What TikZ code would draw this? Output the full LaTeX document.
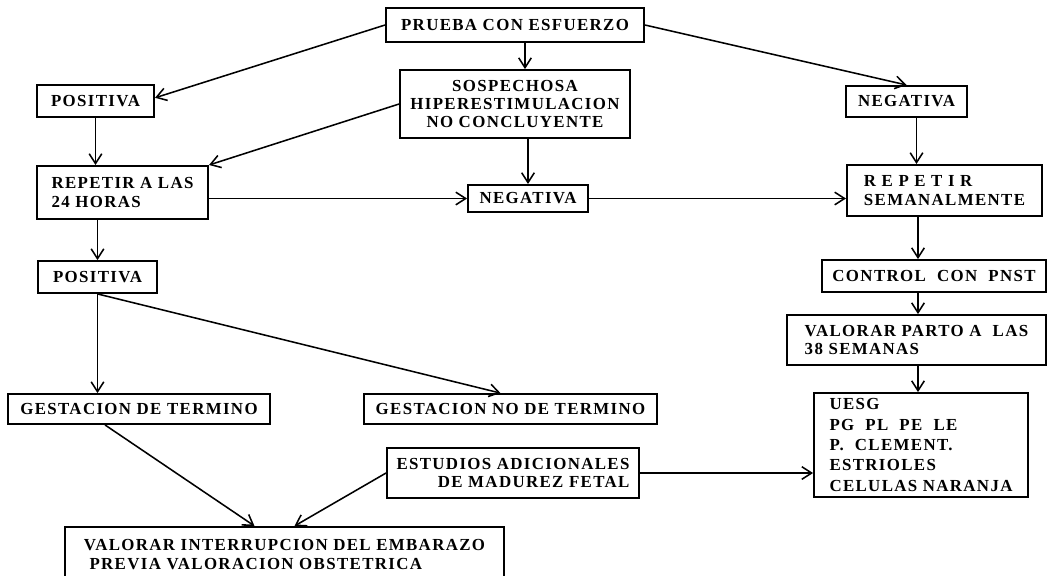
\documentclass[tikz,border=0pt]{standalone}
\usepackage{fontspec}
\setmainfont[LetterSpace=8]{Liberation Serif}
\usepackage{tikz}
\usetikzlibrary{arrows.meta}

\begin{document}
\begin{tikzpicture}[x=0.025cm,y=-0.025cm]
    \bfseries\fontsize{12}{13}\selectfont

    \tikzset{ST/.style={draw=black,line width=1.1pt,-{Straight Barb[length=7pt,width=9pt]}}}
    \tikzset{BX/.style 2 args={draw=black,line width=1.3pt,rectangle,inner xsep=0.2cm,inner ysep=0pt,minimum width=#1,minimum height=#2}}

    \useasboundingbox (0,0) rectangle (1049,575);

    \coordinate (spine) at (918,0);
    \node (prueba) [BX={6.45cm}{0.85cm}] at (515,25) {PRUEBA CON ESFUERZO};
    	\node (pos1) [BX={2.93cm}{0.8cm}] at (95.5,101) {POSITIVA};
    	\node (sosp) [BX={5.75cm}{1.7cm},align=center] at (515,104) {SOSPECHOSA\\HIPERESTIMULACION\\NO CONCLUYENTE};
    	\node (neg1) [BX={3.03cm}{0.78cm}] at (906.5,101.5) {NEGATIVA};
    		\node (rep24) [BX={4.28cm}{1.33cm},align=left] at (122.5,192.5) {REPETIR A LAS\\24 HORAS};
    		\node (neg2) [BX={3cm}{0.68cm}] at (528,198.5) {NEGATIVA};
    		\node (repsem) [BX={4.88cm}{1.28cm},align=left] at (944.5,190.5) {R E P E T I R\\SEMANALMENTE};
    			\node (pos2) [BX={2.98cm}{0.8cm}] at (97.5,277) {POSITIVA};
    			\node (ctrl) [BX={5.6cm}{0.8cm}] at (934,276) {CONTROL~ CON~ PNST};
    			\node (parto) [BX={6.48cm}{1.25cm},align=left] at (916.5,340) {VALORAR PARTO A~ LAS\\38 SEMANAS};
    				\node (gdt) [BX={6.55cm}{0.75cm}] at (139,409) {GESTACION DE TERMINO};
    				\node (gndt) [BX={7.33cm}{0.75cm}] at (510.5,409) {GESTACION NO DE TERMINO};
    				\node (uesg) [BX={5.35cm}{2.6cm},align=left,font=\fontsize{12}{14.5}\selectfont] at (921,445) {UESG\\PG~ PL~ PE~ LE\\P.~ CLEMENT.\\ESTRIOLES\\CELULAS NARANJA};
    				\node (est) [BX={6.3cm}{1.25cm},align=right] at (513,473) {ESTUDIOS ADICIONALES\\DE MADUREZ FETAL};
    					\node (vint) [BX={10.98cm}{1.38cm},align=left] at (284.5,554.5) {VALORAR INTERRUPCION DEL EMBARAZO\\\hspace*{4pt}PREVIA VALORACION OBSTETRICA};

    \path[ST] (prueba.west) -- ([yshift=0.08cm]pos1.east);
    \path[ST] ([xshift=0.25cm]prueba.south) -- ([xshift=0.25cm]sosp.north);
    \path[ST] (prueba.east) -- (neg1.north);
    	\path[ST] (pos1.south) -- (pos1.south |- rep24.north);
    	\path[ST] (sosp.west) -- (rep24.north east);
    	\path[ST] (sosp.south -| neg2.north) -- (neg2.north);
    	\path[ST] ([xshift=0.25cm]neg1.south) -- ([xshift=0.25cm]neg1.south |- repsem.north);
    		\path[ST] (rep24.east |- neg2.west) -- (neg2.west);
    		\path[ST] (neg2.east) -- (neg2.east -| repsem.west);
    		\path[ST] (rep24.south -| pos2.south) -- (pos2.north);
    		\path[ST] (repsem.south -| spine) -- (ctrl.north -| spine);
    			\path[ST] (ctrl.south -| spine) -- (parto.north -| spine);
    			\path[ST] (parto.south -| spine) -- (uesg.north -| spine);
    			\path[ST] (pos2.south) -- (pos2.south |- gdt.north);
    			\path[ST] (pos2.south) -- ([xshift=-0.25cm]gndt.north);
    				\path[ST] ([xshift=-0.85cm]gdt.south) -- ([xshift=-0.75cm]vint.north);
    				\path[ST] (est.west) -- ([xshift=0.25cm]vint.north);
    				\path[ST] (est.east) -- (est.east -| uesg.west);
\end{tikzpicture}
\end{document}
